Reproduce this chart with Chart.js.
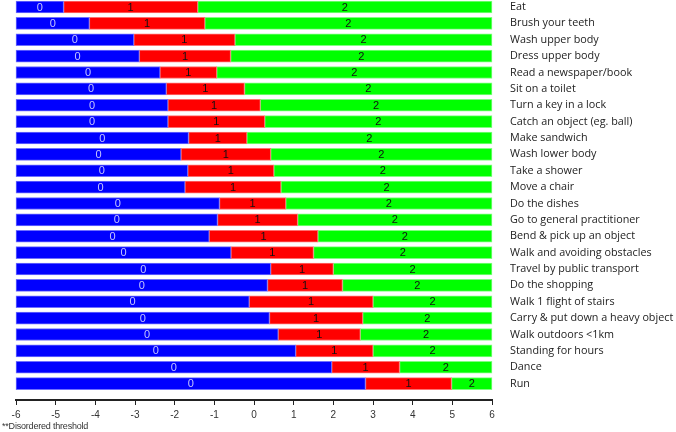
<!DOCTYPE html>
<html lang="en">
<head>
    <meta charset="UTF-8">
    <title>Item thresholds</title>
    <script src="https://cdn.jsdelivr.net/npm/chart.js"></script>
    <style>
        html, body {
            margin: 0;
            padding: 0;
            background: #fff;
        }
        .wrap {
            position: relative;
            width: 676px;
            height: 432px;
        }
        .note {
            position: absolute;
            left: 2px;
            top: 421px;
            font-family: "Liberation Sans", Arial, sans-serif;
            font-size: 9px;
            color: #333;
            letter-spacing: -0.2px;
        }
    </style>
</head>
<body>
    <div class="wrap">
        <canvas id="chart" width="676" height="432"></canvas>
        <div class="note">**Disordered threshold</div>
    </div>

    <script>
        const activities = [
            'Eat', 'Brush your teeth', 'Wash upper body', 'Dress upper body',
            'Read a newspaper/book', 'Sit on a toilet', 'Turn a key in a lock',
            'Catch an object (eg. ball)', 'Make sandwich', 'Wash lower body',
            'Take a shower', 'Move a chair', 'Do the dishes',
            'Go to general practitioner', 'Bend & pick up an object',
            'Walk and avoiding obstacles', 'Travel by public transport',
            'Do the shopping', 'Walk 1 flight of stairs',
            'Carry & put down a heavy object', 'Walk outdoors <1km',
            'Standing for hours', 'Dance', 'Run'
        ];
        // threshold between category 0 and 1
        const threshold1 = [
            -4.80, -4.15, -3.03, -2.89, -2.37, -2.21, -2.17, -2.17, -1.65, -1.84,
            -1.67, -1.74, -0.87, -0.92, -1.13, -0.58, 0.42, 0.34, -0.12, 0.39,
            0.61, 1.05, 1.96, 2.81
        ];
        // threshold between category 1 and 2
        const threshold2 = [
            -1.42, -1.24, -0.48, -0.59, -0.94, -0.24, 0.16, 0.27, -0.18, 0.42,
            0.50, 0.68, 0.80, 1.10, 1.61, 1.50, 2.00, 2.23, 3.00, 2.74,
            2.68, 3.00, 3.67, 4.98
        ];
        const axisMin = -6;
        const axisMax = 6;

        // spare empty slot so the axis sits below the last bar
        const rowLabels = [...activities, ''];

        const cat0 = threshold1.map(t => [axisMin, t]);
        const cat1 = threshold1.map((t, i) => [t, threshold2[i]]);
        const cat2 = threshold2.map(t => [t, axisMax]);

        // writes the category number in the middle of each segment
        const segmentLabels = {
            id: 'segmentLabels',
            afterDatasetsDraw(chart) {
                const ctx = chart.ctx;
                ctx.save();
                ctx.font = '11px "Liberation Sans", Arial, sans-serif';
                ctx.textAlign = 'center';
                ctx.textBaseline = 'middle';
                chart.data.datasets.forEach((ds, di) => {
                    const meta = chart.getDatasetMeta(di);
                    ctx.fillStyle = ds.labelColor;
                    meta.data.forEach(bar => {
                        const p = bar.getProps(['x', 'y', 'base'], true);
                        ctx.fillText(ds.label, (p.x + p.base) / 2, p.y + 0.5);
                    });
                });
                ctx.restore();
            }
        };

        new Chart(document.getElementById('chart'), {
            type: 'bar',
            data: {
                labels: rowLabels,
                datasets: [
                    { label: '0', data: cat0, backgroundColor: '#0000ff', borderColor: '#7070ff', labelColor: '#c4c4ff' },
                    { label: '1', data: cat1, backgroundColor: '#ff0000', borderColor: '#ff7070', labelColor: '#111' },
                    { label: '2', data: cat2, backgroundColor: '#00ff00', borderColor: '#80ff80', labelColor: '#111' }
                ]
            },
            options: {
                indexAxis: 'y',
                responsive: false,
                animation: false,
                layout: { padding: { left: 16, top: 7, right: 0, bottom: 0 } },
                datasets: {
                    bar: {
                        grouped: false,
                        barThickness: 12,
                        borderWidth: 1,
                        borderSkipped: false,
                        clip: false
                    }
                },
                plugins: {
                    legend: { display: false },
                    tooltip: { enabled: false }
                },
                scales: {
                    x: {
                        type: 'linear',
                        min: axisMin,
                        max: axisMax,
                        ticks: {
                            stepSize: 1,
                            padding: 4,
                            color: '#333',
                            font: { family: '"Liberation Sans", Arial, sans-serif', size: 10 }
                        },
                        grid: {
                            drawOnChartArea: false,
                            tickLength: 5,
                            color: '#222',
                            lineWidth: 1
                        },
                        border: { color: '#222', width: 2 },
                        afterFit(scale) { scale.height = 32; }
                    },
                    y: {
                        type: 'category',
                        position: 'right',
                        offset: false,
                        grid: { display: false },
                        border: { display: false },
                        ticks: {
                            padding: 10,
                            autoSkip: false,
                            color: '#222',
                            font: { family: '"Open Sans", sans-serif', size: 10.8 }
                        },
                        afterFit(scale) {
                            scale.width = 184;
                            scale.paddingTop = 0;
                            scale.paddingBottom = 0;
                        }
                    }
                }
            },
            plugins: [segmentLabels]
        });
    </script>
</body>
</html>
